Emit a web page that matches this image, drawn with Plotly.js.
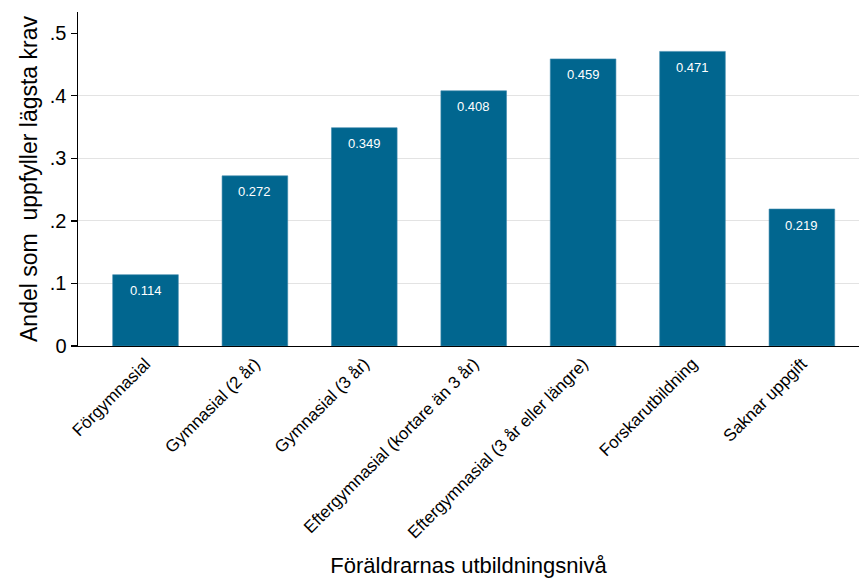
<!DOCTYPE html>
<html>
<head>
<meta charset="utf-8">
<script src="https://cdn.plot.ly/plotly-3.0.1.min.js"></script>
<style>html,body{margin:0;padding:0;background:#fff;}#chart{width:859px;height:578px;}</style>
</head>
<body>
<div id="chart"></div>
<script>
const categories = [
  "Förgymnasial",
  "Gymnasial (2 år)",
  "Gymnasial (3 år)",
  "Eftergymnasial (kortare än 3 år)",
  "Eftergymnasial (3 år eller längre)",
  "Forskarutbildning",
  "Saknar uppgift"
];
const values = [0.114, 0.272, 0.349, 0.408, 0.459, 0.471, 0.219];
const valueLabels = ["0.114", "0.272", "0.349", "0.408", "0.459", "0.471", "0.219"];
const yTickVals = [0, 0.1, 0.2, 0.3, 0.4, 0.5];
const yTickText = ["0", ".1", ".2", ".3", ".4", ".5"];
const gridVals = [0.1, 0.2, 0.3, 0.4];

const FONT = "Liberation Sans, Arial, sans-serif";
const BAR = "#01668f";
const yRange = [0, 0.534];

const trace = {
  type: "bar",
  x: categories,
  y: values,
  marker: {color: BAR, line: {color: "#3f89ad", width: 0.6}},
  width: 0.6,
  hoverinfo: "x+y",
  yaxis: "y"
};

const annotations = categories.map((c, i) => ({
  x: c, y: values[i], xref: "x", yref: "y",
  text: valueLabels[i], showarrow: false,
  yanchor: "middle", yshift: -16,
  font: {family: FONT, size: 13, color: "#ffffff"}
}));

const layout = {
  width: 859, height: 578,
  margin: {l: 78, r: 0, t: 12, b: 232},
  paper_bgcolor: "#ffffff",
  plot_bgcolor: "#ffffff",
  showlegend: false,
  font: {family: FONT, color: "#000"},
  xaxis: {
    type: "category",
    range: [-0.617, 6.522],
    showline: true, linecolor: "#000", linewidth: 1.2,
    showgrid: false, zeroline: false,
    ticks: "",
    tickangle: -45,
    tickfont: {family: FONT, size: 17, color: "#000"},
    title: {text: "Föräldrarnas utbildningsnivå", font: {family: FONT, size: 22, color: "#000"}, standoff: 20},
    automargin: false
  },
  yaxis: {
    range: yRange,
    tickvals: gridVals,
    showticklabels: false,
    ticks: "",
    showgrid: true, gridcolor: "#e3e3e3", gridwidth: 1,
    zeroline: false, showline: false,
    automargin: false
  },
  yaxis2: {
    overlaying: "y", side: "left",
    range: yRange,
    tickvals: yTickVals, ticktext: yTickText,
    ticks: "outside", ticklen: 6, tickcolor: "#000", tickwidth: 1.2,
    showgrid: false, zeroline: false,
    showline: true, linecolor: "#000", linewidth: 1.5,
    tickfont: {family: FONT, size: 20, color: "#000"},
    title: {text: "Andel som  uppfyller lägsta krav", font: {family: FONT, size: 23, color: "#000"}, standoff: 6},
    automargin: false
  },
  annotations: annotations
};

// dummy invisible trace to activate yaxis2
const axisTrace = {type: "scatter", x: [categories[0]], y: [0], yaxis: "y2", mode: "markers", marker: {opacity: 0}, hoverinfo: "skip"};

Plotly.newPlot("chart", [trace, axisTrace], layout, {displayModeBar: false, staticPlot: true});
</script>
</body>
</html>
